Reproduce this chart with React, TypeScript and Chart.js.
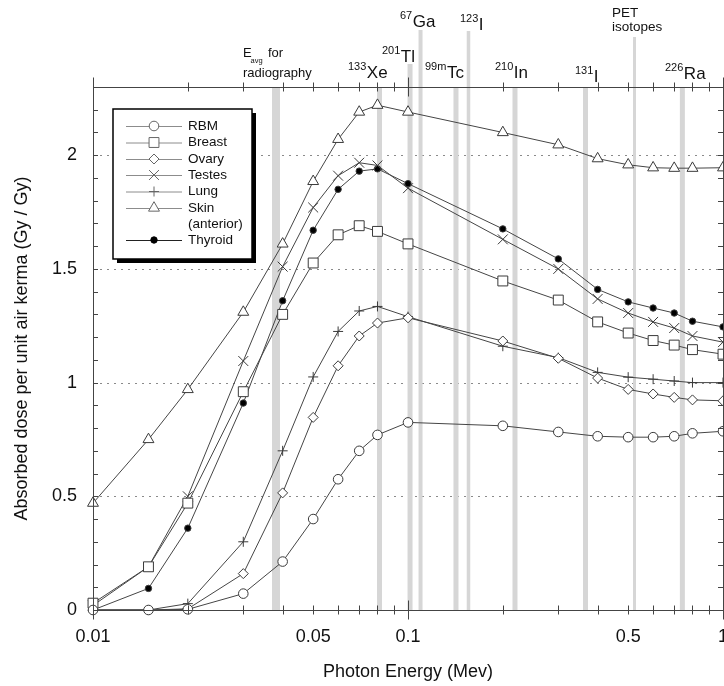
import React, { useEffect, useRef } from 'react';
import { Chart, registerables } from 'chart.js';
import { drawPoint } from 'chart.js/helpers';

Chart.register(...registerables);

const FF = '"Liberation Sans", Arial, Helvetica, sans-serif';

// ---------- data ----------
const energies = [0.01, 0.015, 0.02, 0.03, 0.04, 0.05, 0.06, 0.07, 0.08, 0.1, 0.2, 0.3, 0.4, 0.5, 0.6, 0.7, 0.8, 1.0];
const rbm = [0, 0, 0.003, 0.072, 0.213, 0.4, 0.575, 0.7, 0.77, 0.825, 0.81, 0.783, 0.764, 0.76, 0.76, 0.764, 0.777, 0.786];
const breast = [0.03, 0.19, 0.47, 0.96, 1.3, 1.526, 1.65, 1.69, 1.665, 1.61, 1.447, 1.363, 1.267, 1.218, 1.185, 1.165, 1.145, 1.125];
const ovary = [0, 0, 0.005, 0.16, 0.515, 0.847, 1.074, 1.205, 1.262, 1.285, 1.183, 1.107, 1.02, 0.97, 0.95, 0.935, 0.924, 0.92];
const testes = [0.02, 0.19, 0.5, 1.095, 1.51, 1.77, 1.91, 1.967, 1.955, 1.855, 1.63, 1.5, 1.368, 1.306, 1.267, 1.24, 1.205, 1.178];
const lung = [0, 0, 0.028, 0.3, 0.7, 1.025, 1.225, 1.315, 1.335, 1.29, 1.16, 1.11, 1.045, 1.024, 1.015, 1.007, 1.0, 1.0];
const skin = [0.47, 0.75, 0.97, 1.31, 1.61, 1.885, 2.07, 2.19, 2.22, 2.19, 2.1, 2.046, 1.985, 1.958, 1.945, 1.943, 1.943, 1.945];
const thyroid = [0, 0.095, 0.36, 0.91, 1.36, 1.67, 1.85, 1.93, 1.94, 1.875, 1.676, 1.544, 1.41, 1.355, 1.328, 1.306, 1.27, 1.245];

const seriesNames = ['RBM', 'Breast', 'Ovary', 'Testes', 'Lung', 'Skin (anterior)', 'Thyroid'];
const seriesValues = [rbm, breast, ovary, testes, lung, skin, thyroid];

const xTickValuesLabeled = [0.01, 0.05, 0.1, 0.5, 1];
const xTickLabels = ['0.01', '0.05', '0.1', '0.5', '1'];
const yTickValuesLabeled = [0, 0.5, 1, 1.5, 2];
const yTickLabels = ['0', '0.5', '1', '1.5', '2'];
const yGridValues = [0.5, 1, 1.5, 2];

// isotope / reference energies (MeV)
const bandEnergies = [0.0381, 0.0812, 0.1015, 0.1096, 0.142, 0.1556, 0.2186, 0.366, 0.5236, 0.743];
const isoSup = ['133', '201', '67', '99m', '123', '210', '131', '226'];
const isoMain = ['Xe', 'Tl', 'Ga', 'Tc', 'I', 'In', 'I', 'Ra'];

// ---------- styles / layout ----------
const seriesStyles = [
  { pointStyle: 'circle', radius: 4.8, fill: '#ffffff' },
  { pointStyle: 'rect', radius: 7, fill: '#ffffff' },
  { pointStyle: 'rectRot', radius: 5, fill: '#ffffff' },
  { pointStyle: 'crossRot', radius: 7, fill: '#ffffff' },
  { pointStyle: 'cross', radius: 5, fill: '#ffffff' },
  { pointStyle: 'triangle', radius: 6.3, fill: '#ffffff' },
  { pointStyle: 'circle', radius: 3.2, fill: '#000000' },
];
const bandWidths = [8, 5, 5, 4, 5, 3.5, 5, 5, 3, 5];
const bandTops: (number | null)[] = [null, null, 64, 30, null, 31, null, null, 37, null];
const isoLabelPos = [
  { x: 348, y: 78 },
  { x: 382, y: 62 },
  { x: 400, y: 27 },
  { x: 425, y: 78 },
  { x: 460, y: 30 },
  { x: 495, y: 78 },
  { x: 575, y: 82 },
  { x: 665, y: 79 },
];

const near = (a: number, b: number) => Math.abs(a - b) < 1e-6 * Math.max(1, Math.abs(b));

function buildXTicks() {
  const t: number[] = [];
  for (let e = -2; e < 0; e++) {
    for (let m = 1; m <= 9; m++) t.push(Number((m * Math.pow(10, e)).toPrecision(6)));
  }
  t.push(1);
  return t;
}

const decorPlugin = {
  id: 'decor',
  beforeDatasetsDraw(chart: any) {
    const { ctx, chartArea: a, scales } = chart;
    const x = scales.x, y = scales.y;
    ctx.save();
    // dotted grid
    ctx.strokeStyle = '#8a8a8a';
    ctx.lineWidth = 1;
    ctx.setLineDash([2, 5]);
    yGridValues.forEach((v) => {
      const py = Math.round(y.getPixelForValue(v)) + 0.5;
      ctx.beginPath();
      ctx.moveTo(a.left, py);
      ctx.lineTo(a.right, py);
      ctx.stroke();
    });
    ctx.setLineDash([]);
    // grey bands
    ctx.fillStyle = '#d6d6d6';
    bandEnergies.forEach((e, i) => {
      const px = x.getPixelForValue(e);
      const w = bandWidths[i];
      const top = bandTops[i] == null ? a.top : (bandTops[i] as number);
      ctx.fillRect(px - w / 2, top, w, a.bottom - top);
    });
    ctx.restore();
  },
  afterDatasetsDraw(chart: any) {
    const { ctx, chartArea: a, scales } = chart;
    const x = scales.x, y = scales.y;
    ctx.save();
    // frame
    ctx.strokeStyle = '#444';
    ctx.lineWidth = 1;
    ctx.strokeRect(Math.round(a.left) + 0.5, Math.round(a.top) + 0.5, Math.round(a.right - a.left), Math.round(a.bottom - a.top));
    // x ticks (crossing top and bottom axes)
    x.ticks.forEach((t: any) => {
      const px = Math.round(x.getPixelForValue(t.value)) + 0.5;
      const lg = Math.log10(t.value);
      const major = Math.abs(lg - Math.round(lg)) < 1e-6;
      const len = major ? 9.5 : 4.5;
      ctx.beginPath();
      ctx.moveTo(px, a.bottom - len);
      ctx.lineTo(px, a.bottom + len);
      ctx.moveTo(px, a.top - len);
      ctx.lineTo(px, a.top + len);
      ctx.stroke();
    });
    // y ticks (inward, both sides)
    y.ticks.forEach((t: any) => {
      const py = Math.round(y.getPixelForValue(t.value)) + 0.5;
      ctx.beginPath();
      ctx.moveTo(a.left, py);
      ctx.lineTo(a.left + 5, py);
      ctx.moveTo(a.right - 5, py);
      ctx.lineTo(a.right, py);
      ctx.stroke();
    });

    // legend
    const lx = 113, ly = 109, lw = 139, lh = 150;
    ctx.fillStyle = '#000';
    ctx.fillRect(lx + 4, ly + 4, lw, lh);
    ctx.fillStyle = '#fff';
    ctx.fillRect(lx, ly, lw, lh);
    ctx.strokeStyle = '#000';
    ctx.lineWidth = 1.5;
    ctx.strokeRect(lx, ly, lw, lh);
    const rows = [126, 142.5, 159, 175, 191.5, 208, 240];
    ctx.font = `13.5px ${FF}`;
    ctx.textAlign = 'left';
    ctx.textBaseline = 'middle';
    seriesNames.forEach((name, i) => {
      const ry = rows[i];
      const st = seriesStyles[i];
      const last = i === seriesNames.length - 1;
      ctx.strokeStyle = last ? '#222' : '#8c8c8c';
      ctx.lineWidth = 1;
      ctx.beginPath();
      ctx.moveTo(126, ry + 0.5);
      ctx.lineTo(182, ry + 0.5);
      ctx.stroke();
      ctx.fillStyle = st.fill === '#000000' ? '#000' : '#fff';
      ctx.strokeStyle = last ? '#000' : '#666';
      drawPoint(ctx, { pointStyle: st.pointStyle as any, radius: st.radius, rotation: 0, borderWidth: 1 } as any, 154, ry);
      ctx.fillStyle = '#111';
      if (name === 'Skin (anterior)') {
        ctx.fillText('Skin', 188, ry);
        ctx.fillText('(anterior)', 188, ry + 16.2);
      } else {
        ctx.fillText(name, 188, ry);
      }
    });

    // top annotations
    ctx.fillStyle = '#111';
    ctx.textBaseline = 'alphabetic';
    ctx.textAlign = 'left';
    ctx.font = `13px ${FF}`;
    ctx.fillText('E', 243, 57);
    ctx.font = `7.5px ${FF}`;
    ctx.fillText('avg', 250.5, 63);
    ctx.font = `13px ${FF}`;
    ctx.fillText('for', 268, 57);
    ctx.fillText('radiography', 243, 77);
    ctx.font = `13.5px ${FF}`;
    ctx.fillText('PET', 612, 17);
    ctx.fillText('isotopes', 612, 30.5);
    isoSup.forEach((sup, i) => {
      const p = isoLabelPos[i];
      ctx.font = `11px ${FF}`;
      ctx.fillText(sup, p.x, p.y - 8);
      const w = ctx.measureText(sup).width;
      ctx.font = `17px ${FF}`;
      ctx.fillText(isoMain[i], p.x + w + 0.5, p.y);
    });
    ctx.restore();
  },
};

export default function App() {
  const ref = useRef<HTMLCanvasElement | null>(null);
  useEffect(() => {
    if (!ref.current) return;
    Chart.defaults.font.family = FF;
    const xTicks = buildXTicks();
    const datasets = seriesNames.map((name, i) => {
      const st = seriesStyles[i];
      return {
        label: name,
        data: energies.map((e, j) => ({ x: e, y: seriesValues[i][j] })),
        borderColor: '#454545',
        borderWidth: 1,
        backgroundColor: st.fill,
        pointStyle: st.pointStyle as any,
        pointRadius: st.radius,
        pointBorderWidth: 1,
        pointBorderColor: '#3a3a3a',
        pointBackgroundColor: st.fill,
        tension: 0,
        fill: false,
        clip: false as any,
      };
    });
    const chart = new Chart(ref.current, {
      type: 'line',
      data: { datasets },
      options: {
        responsive: false,
        devicePixelRatio: 1,
        animation: false,
        events: [],
        layout: { padding: { left: 0, top: 87, right: 37, bottom: 0 } },
        plugins: { legend: { display: false }, tooltip: { enabled: false } },
        scales: {
          x: {
            type: 'logarithmic',
            min: 0.01,
            max: 1,
            afterBuildTicks: (s: any) => {
              s.ticks = xTicks.map((v) => ({ value: v }));
            },
            afterFit: (s: any) => {
              s.height = 76;
            },
            grid: { display: false, drawTicks: false },
            border: { display: false },
            ticks: {
              autoSkip: false,
              maxRotation: 0,
              minRotation: 0,
              padding: 16,
              color: '#111',
              font: { size: 18, family: FF },
              callback: (v: any) => {
                const k = xTickValuesLabeled.findIndex((t) => near(Number(v), t));
                return k >= 0 ? xTickLabels[k] : '';
              },
            },
            title: {
              display: true,
              text: 'Photon Energy (Mev)',
              color: '#111',
              font: { size: 18, family: FF },
              padding: { top: 0, bottom: 3 },
            },
          },
          y: {
            type: 'linear',
            min: 0,
            max: 2.3,
            afterFit: (s: any) => {
              s.width = 93;
            },
            grid: { display: false, drawTicks: false },
            border: { display: false },
            ticks: {
              stepSize: 0.1,
              autoSkip: false,
              padding: 16,
              color: '#111',
              font: { size: 18, family: FF },
              callback: (v: any) => {
                const k = yTickValuesLabeled.findIndex((t) => near(Number(v), t));
                return k >= 0 ? yTickLabels[k] : '';
              },
            },
            title: {
              display: true,
              text: 'Absorbed dose per unit air kerma (Gy / Gy)',
              color: '#111',
              font: { size: 18, family: FF },
              padding: { top: 11, bottom: 0 },
            },
          },
        },
      },
      plugins: [decorPlugin],
    });
    return () => chart.destroy();
  }, []);
  return (
    <div style={{ position: 'fixed', left: 0, top: 0, width: 724, height: 686, overflow: 'hidden', background: '#fff' }}>
      <canvas ref={ref} width={760} height={686} style={{ display: 'block', width: 760, height: 686 }} />
    </div>
  );
}
